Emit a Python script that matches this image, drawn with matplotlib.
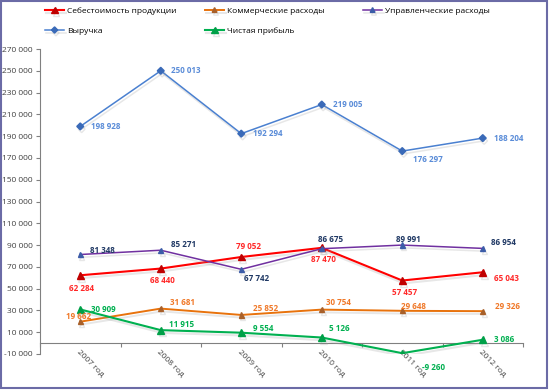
import numpy as np
import matplotlib.pyplot as plt
import matplotlib.patheffects as pe
from matplotlib.patches import Rectangle

plt.rcParams['font.family'] = ['Open Sans', 'DejaVu Sans']

years = ['2007 год', '2008 год', '2009 год', '2010 год', '2011 год', '2012 год']

sebest = [62284, 68440, 79052, 87470, 57457, 65043]
kommerch = [19662, 31681, 25852, 30754, 29648, 29326]
upravl = [81348, 85271, 67742, 86675, 89991, 86954]
vyruchka = [198928, 250013, 192294, 219005, 176297, 188204]
pribyl = [30909, 11915, 9554, 5126, -9260, 3086]

names = ['Себестоимость продукции', 'Коммерческие расходы', 'Управленческие расходы',
         'Выручка', 'Чистая прибыль']

# label offsets in pixels (left edge of text, vertical centre)
off_sebest = [(-11, -13), (-11, -12), (-5, 10), (-11, -12), (-10, -12), (11, -6)]
off_komm = [(-14, 5), (9, 6), (12, 6), (4, 7), (-1, 4), (12, 5)]
off_upr = [(10, 4), (10, 6), (3, -9), (-4, 9), (-6, 6), (8, 6)]
off_vyr = [(11, 0), (10, 0), (12, 0), (11, 0), (11, -8), (11, 0)]
off_prib = [(11, 0), (8, 6), (12, 4), (7, 9), (20, -14), (11, 0)]

fig = plt.figure(figsize=(5.49, 3.91), dpi=100)
ax = fig.add_axes([40 / 549, 1 - 354 / 391, 483 / 549, 305 / 391])

# move the category axis to y=0 first (this resets the ticks)
ax.spines['top'].set_visible(False)
ax.spines['right'].set_visible(False)
ax.spines['bottom'].set_position(('data', 0))
for sp in ('left', 'bottom'):
    ax.spines[sp].set_color('#808080')
    ax.spines[sp].set_linewidth(0.8)

x = np.arange(len(years)) + 0.5

shadow = [pe.SimpleLineShadow(offset=(1.0, -2.0), shadow_color='#a0a0a0', alpha=0.25), pe.Normal()]

series = [
    (sebest, '#FF0000', '^', '#C00000', 5, 1.5, '#FF2828', off_sebest),
    (kommerch, '#E8720C', '^', '#A8602A', 3.8, 1.4, '#F07828', off_komm),
    (upravl, '#7030A0', '^', '#3C5CA8', 3.8, 1.1, '#1F3864', off_upr),
    (vyruchka, '#4A80D0', 'D', '#3A6AB8', 3.5, 1.1, '#5A8CD8', off_vyr),
    (pribyl, '#00B050', '^', '#00A048', 5, 1.5, '#00B050', off_prib),
]

handles = []
for (vals, col, mk, mcol, ms, lw, lcol, offs), name in zip(series, names):
    ln, = ax.plot(x, vals, color=col, lw=lw, marker=mk, ms=ms, mfc=mcol, mec=mcol,
                  path_effects=shadow, label=name, zorder=3)
    handles.append(ln)
    for xi, v, (dx, dy) in zip(x, vals, offs):
        s = f'{v:,}'.replace(',', ' ')
        ax.annotate(s, (xi, v), xytext=(dx, dy), textcoords='offset pixels',
                    ha='left', va='center', fontsize=5.8, fontweight='bold', color=lcol, zorder=4)

ax.set_xlim(0, 6)
ax.set_ylim(-10000, 270000)
ax.set_yticks(np.arange(-10000, 270001, 20000))
ax.set_yticklabels([f'{v:,}'.replace(',', ' ') for v in range(-10000, 270001, 20000)])
ax.set_xticks(np.arange(0, 7))
ax.set_xticklabels([])
ax.set_xticks(x, minor=True)
ax.set_xticklabels(years, minor=True, rotation=-45, rotation_mode='anchor', ha='left', va='top')
ax.tick_params(axis='x', which='minor', length=0, pad=4, labelsize=6, labelcolor='#404040')
ax.tick_params(axis='x', which='major', length=3, color='#808080')
ax.tick_params(axis='y', length=3, color='#808080', labelsize=6, labelcolor='#404040', pad=2)

# legend entries placed like the original two-row layout
leg_pos = [(45, 11), (205, 11), (363, 11), (45, 31), (205, 31)]
for h, (px, py) in zip(handles, leg_pos):
    fig.legend(handles=[h], loc='center left', bbox_to_anchor=(px / 549, 1 - py / 391),
               frameon=False, fontsize=6, handlelength=2.3, handletextpad=0.3,
               borderpad=0, borderaxespad=0, markerscale=0.9)

fig.add_artist(Rectangle((0.002, 3 / 391), 0.994, 1 - 3.5 / 391, transform=fig.transFigure,
                         fill=False, ec='#6B6BA6', lw=1.5))

fig.savefig('out.png', dpi=100)
